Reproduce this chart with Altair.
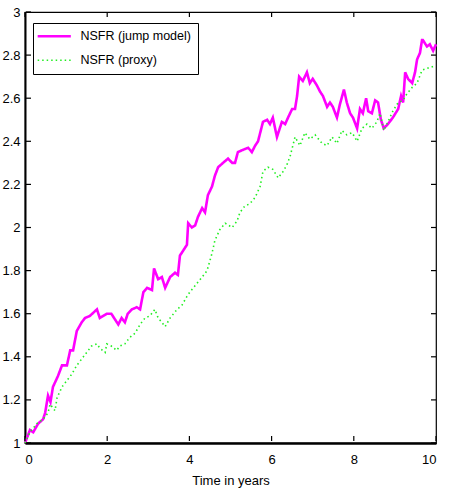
import altair as alt
import pandas as pd

# NSFR path under the jump model
jump_t = [0, 0.12, 0.2, 0.32, 0.44, 0.49, 0.56, 0.62, 0.68, 0.8, 0.9, 1.02, 1.1, 1.17,
          1.26, 1.38, 1.46, 1.58, 1.75, 1.82, 1.99, 2.1, 2.27, 2.35, 2.43, 2.5, 2.6,
          2.72, 2.8, 2.88, 2.97, 3.09, 3.14, 3.24, 3.33, 3.41, 3.53, 3.65, 3.72, 3.77,
          3.84, 3.94, 3.97, 4.06, 4.14, 4.21, 4.31, 4.38, 4.45, 4.55, 4.62, 4.70, 4.82,
          4.94, 5.04, 5.11, 5.18, 5.30, 5.43, 5.52, 5.60, 5.67, 5.79, 5.89, 5.96, 6.03,
          6.13, 6.25, 6.33, 6.40, 6.50, 6.57, 6.62, 6.67, 6.76, 6.86, 6.93, 7.00, 7.10,
          7.18, 7.25, 7.35, 7.42, 7.49, 7.59, 7.66, 7.76, 7.83, 7.91, 7.98, 8.08, 8.15,
          8.22, 8.30, 8.35, 8.44, 8.52, 8.59, 8.66, 8.73, 8.83, 8.95, 9.08, 9.15, 9.20,
          9.25, 9.32, 9.42, 9.49, 9.54, 9.61, 9.66, 9.68, 9.78, 9.85, 9.93, 10.0]
jump_v = [1.00, 1.06, 1.05, 1.09, 1.11, 1.14, 1.22, 1.19, 1.26, 1.31, 1.36, 1.36, 1.43, 1.43,
          1.52, 1.56, 1.58, 1.59, 1.62, 1.58, 1.60, 1.60, 1.55, 1.58, 1.56, 1.60, 1.62,
          1.63, 1.62, 1.70, 1.72, 1.71, 1.81, 1.76, 1.77, 1.72, 1.77, 1.79, 1.78, 1.87,
          1.89, 1.92, 2.02, 2.00, 2.01, 2.05, 2.09, 2.07, 2.15, 2.19, 2.24, 2.28, 2.30,
          2.32, 2.30, 2.30, 2.35, 2.36, 2.37, 2.35, 2.38, 2.40, 2.49, 2.50, 2.48, 2.51,
          2.42, 2.49, 2.48, 2.51, 2.55, 2.55, 2.61, 2.70, 2.68, 2.72, 2.67, 2.69, 2.66,
          2.63, 2.61, 2.56, 2.58, 2.56, 2.51, 2.57, 2.64, 2.58, 2.53, 2.51, 2.46, 2.55,
          2.53, 2.60, 2.54, 2.53, 2.59, 2.58, 2.50, 2.46, 2.48, 2.51, 2.55, 2.61, 2.58,
          2.72, 2.69, 2.67, 2.72, 2.78, 2.81, 2.87, 2.87, 2.84, 2.85, 2.82, 2.85]

# NSFR proxy path
proxy_t = [0, 0.12, 0.29, 0.44, 0.56, 0.61, 0.73, 0.78, 0.9, 1.02, 1.14, 1.26, 1.38, 1.5,
           1.62, 1.75, 1.82, 1.95, 1.99, 2.1, 2.23, 2.31, 2.43, 2.55, 2.68, 2.8, 2.92,
           3.04, 3.16, 3.24, 3.33, 3.41, 3.53, 3.70, 3.82, 3.94, 4.01, 4.18, 4.31, 4.43,
           4.55, 4.62, 4.74, 4.87, 5.04, 5.16, 5.23, 5.35, 5.47, 5.60, 5.72, 5.79, 5.91,
           6.03, 6.16, 6.28, 6.37, 6.45, 6.57, 6.69, 6.81, 6.93, 7.06, 7.10, 7.23, 7.35,
           7.47, 7.59, 7.71, 7.83, 7.96, 8.08, 8.20, 8.32, 8.44, 8.56, 8.64, 8.73, 8.83,
           8.95, 9.08, 9.20, 9.29, 9.42, 9.54, 9.66, 9.81, 9.98]
proxy_v = [1.00, 1.05, 1.09, 1.11, 1.14, 1.18, 1.15, 1.21, 1.26, 1.29, 1.32, 1.36, 1.39, 1.42,
           1.45, 1.46, 1.44, 1.42, 1.46, 1.45, 1.43, 1.45, 1.46, 1.49, 1.51, 1.55, 1.58,
           1.59, 1.62, 1.58, 1.56, 1.54, 1.58, 1.62, 1.64, 1.68, 1.70, 1.74, 1.77, 1.80,
           1.88, 1.94, 1.99, 2.02, 2.00, 2.03, 2.07, 2.10, 2.11, 2.14, 2.19, 2.26, 2.28,
           2.27, 2.23, 2.26, 2.29, 2.33, 2.42, 2.38, 2.44, 2.41, 2.43, 2.42, 2.39, 2.38,
           2.42, 2.39, 2.45, 2.43, 2.44, 2.40, 2.46, 2.48, 2.46, 2.49, 2.53, 2.45, 2.49,
           2.54, 2.58, 2.59, 2.62, 2.65, 2.67, 2.73, 2.74, 2.75]

series_names = ["NSFR (jump model)", "NSFR (proxy)"]
x_ticks = [0, 2, 4, 6, 8, 10]
y_ticks = [1, 1.2, 1.4, 1.6, 1.8, 2, 2.2, 2.4, 2.6, 2.8, 3]

W, H = 411, 431
FONT = "Liberation Sans, Arial, sans-serif"

df = pd.concat([
    pd.DataFrame({"t": jump_t, "v": jump_v, "series": series_names[0], "order": range(len(jump_t))}),
    pd.DataFrame({"t": proxy_t, "v": proxy_v, "series": series_names[1], "order": range(len(proxy_t))}),
])

x_scale = alt.Scale(domain=[0, 10], nice=False, zero=False)
y_scale = alt.Scale(domain=[1, 3], nice=False, zero=False)

legend = alt.Legend(title=None, orient="none", legendX=8, legendY=11)

lines = alt.Chart(df).mark_line(strokeCap="butt").encode(
    x=alt.X("t:Q", scale=x_scale,
            axis=alt.Axis(title="Time in years", values=x_ticks, ticks=False, grid=False,
                          labelPadding=10, titlePadding=8, domainWidth=2.5)),
    y=alt.Y("v:Q", scale=y_scale,
            axis=alt.Axis(title=None, values=y_ticks, format="~g", ticks=False, grid=False,
                          labelPadding=5, domainWidth=2)),
    order="order:Q",
    color=alt.Color("series:N", scale=alt.Scale(domain=series_names, range=["#ff00ff", "#22ee22"]),
                    legend=legend),
    strokeDash=alt.StrokeDash("series:N", scale=alt.Scale(domain=series_names, range=[[1, 0], [1.5, 3]]),
                              legend=legend),
    strokeWidth=alt.StrokeWidth("series:N", scale=alt.Scale(domain=series_names, range=[2.6, 1.6]),
                                legend=None),
)

# inward tick marks on all four sides of the box
xt = pd.DataFrame({"t": x_ticks})
yt = pd.DataFrame({"v": y_ticks})
tick_len = 5
tick_style = dict(color="#000000", strokeWidth=1.2)
x_bottom = alt.Chart(xt).mark_rule(**tick_style).encode(
    x=alt.X("t:Q", scale=x_scale), y=alt.value(H - 2), y2=alt.value(H - 2 - tick_len))
x_top = alt.Chart(xt).mark_rule(**tick_style).encode(
    x=alt.X("t:Q", scale=x_scale), y=alt.value(0), y2=alt.value(tick_len))
y_left = alt.Chart(yt).mark_rule(**tick_style).encode(
    y=alt.Y("v:Q", scale=y_scale), x=alt.value(1), x2=alt.value(1 + tick_len))
y_right = alt.Chart(yt).mark_rule(**tick_style).encode(
    y=alt.Y("v:Q", scale=y_scale), x=alt.value(W), x2=alt.value(W - tick_len))

chart = alt.layer(lines, x_bottom, x_top, y_left, y_right).properties(
    width=W, height=H,
    autosize=alt.AutoSizeParams(type="none"),
    padding={"left": 25, "top": 12, "right": 13, "bottom": 47},
    background="white",
).configure_view(
    stroke="black", strokeWidth=1.2
).configure_axis(
    domainColor="black", labelColor="black", titleColor="black",
    labelFont=FONT, titleFont=FONT, labelFontSize=13, titleFontSize=13,
    titleFontWeight="normal",
).configure_legend(
    labelFont=FONT, labelFontSize=12.5, labelColor="black",
    strokeColor="black", fillColor="white", padding=7, cornerRadius=0,
    symbolType="M-5,0H5", symbolSize=44, symbolStrokeWidth=2.2,
    symbolOffset=8, labelOffset=20, rowPadding=11,
)

chart.save("out.html", embed_options={"renderer": "svg", "actions": False})
